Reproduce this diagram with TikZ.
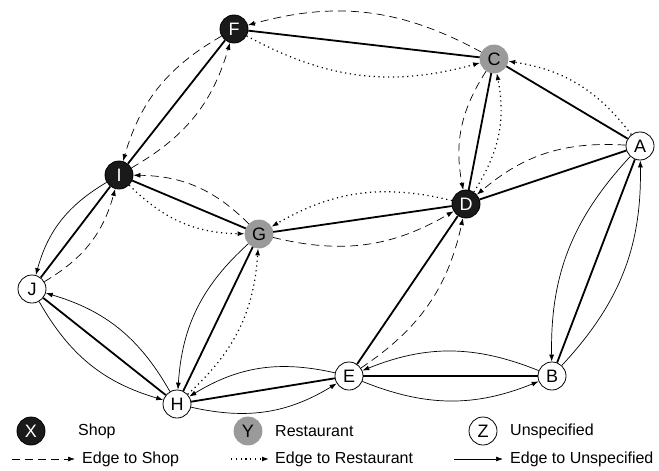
\documentclass[tikz,border=0pt]{standalone}
\usepackage{fontspec}
\setmainfont{Liberation Sans}
\usepackage{tikz}
\usetikzlibrary{arrows.meta}
\usepackage{xcolor}
\definecolor{shopfill}{HTML}{1A1A1A}
\definecolor{restfill}{HTML}{9A9A9A}

\begin{document}
\begin{tikzpicture}[x=1pt, y=-1pt,
  place/.style={circle, draw=black, line width=0.8pt, minimum size=28pt, inner sep=0pt, font=\fontsize{18}{18}\selectfont},
  shop/.style={place, fill=shopfill, text=white},
  rest/.style={place, fill=restfill, draw=restfill},
  plain/.style={place, fill=white},
  link/.style={line width=1.8pt},
  tip/.style={-{Latex[length=7pt, width=5pt]}},
  toshop/.style={tip, line width=0.7pt, dash pattern=on 8pt off 5pt},
  torest/.style={tip, line width=1.2pt, dash pattern=on 1.2pt off 3.6pt},
  tounspec/.style={tip, line width=0.7pt},
  bent/.style={bend right=22},
  lbl/.style={anchor=west, inner sep=0pt, font=\fontsize{16}{16}\selectfont}
]
  \useasboundingbox (0,0) rectangle (659,471);

  % places
  \node[shop]  (F) at (234,29)  {F};
  \node[rest]  (C) at (494,59)  {C};
  \node[plain] (A) at (640,146) {A};
  \node[shop]  (I) at (119,175) {I};
  \node[shop]  (D) at (466,204) {D};
  \node[rest]  (G) at (259,234) {G};
  \node[plain] (J) at (32,289)  {J};
  \node[plain] (E) at (349,376) {E};
  \node[plain] (B) at (552,376) {B};
  \node[plain] (H) at (177,404) {H};

  % links
  \foreach \a/\b in {F/C, F/I, C/A, C/D, D/A, I/G, G/D, I/J, J/H, H/G, H/E, E/D, E/B, B/A}
    \draw[link] (\a) -- (\b);

  % edges to shops
  \foreach \a/\b in {C/F, F/I, I/F, C/D, A/D, G/I, J/I, G/D, E/D}
    \draw[toshop] (\a) to[bent] (\b);
  % edges to restaurants
  \foreach \a/\b in {F/C, D/C, A/C, D/G, I/G, H/G}
    \draw[torest] (\a) to[bent] (\b);
  % edges to unspecified
  \foreach \a/\b in {A/B, B/A, B/E, E/B, E/H, H/E, G/H, I/J, H/J, J/H}
    \draw[tounspec] (\a) to[bent] (\b);

  % legend
  \node[shop]  (keyshop) at (31,431)  {X};
  \node[lbl]   (keyshoptext) at (78,431) {Shop};
  \node[rest]  (keyrest) at (248,431) {Y};
  \node[lbl]   (keyresttext) at (275,431) {Restaurant};
  \node[plain] (keyunspec) at (483,431) {Z};
  \node[lbl]   (keyunspectext) at (510,431) {Unspecified};

  \node[lbl] (edgeshop) at (82,459) {Edge to Shop};
  \node[lbl] (edgerest) at (275,459) {Edge to Restaurant};
  \node[lbl] (edgeunspec) at (510,459) {Edge to Unspecified};
  \coordinate (edgeshopstart) at (12,459);
  \coordinate (edgereststart) at (231,459);
  \coordinate (edgeunspecstart) at (454,459);
  \draw[toshop] (edgeshopstart) -- ([xshift=-7pt]edgeshop.west);
  \draw[torest] (edgereststart) -- ([xshift=-6pt]edgerest.west);
  \draw[tounspec] (edgeunspecstart) -- ([xshift=-7pt]edgeunspec.west);
\end{tikzpicture}
\end{document}
